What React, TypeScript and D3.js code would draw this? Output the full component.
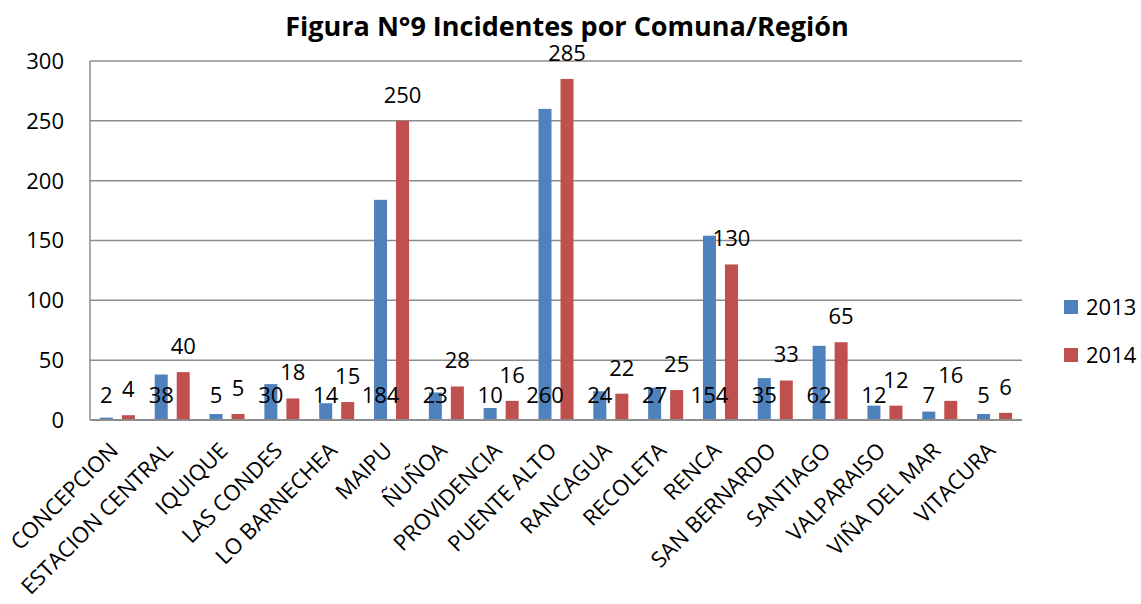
import React from "react";
import * as d3 from "d3";

const categories = ["CONCEPCION","ESTACION CENTRAL","IQUIQUE","LAS CONDES","LO BARNECHEA","MAIPU","ÑUÑOA","PROVIDENCIA","PUENTE ALTO","RANCAGUA","RECOLETA","RENCA","SAN BERNARDO","SANTIAGO","VALPARAISO","VIÑA DEL MAR","VITACURA"];
const values2013 = [2,38,5,30,14,184,23,10,260,24,27,154,35,62,12,7,5];
const values2014 = [4,40,5,18,15,250,28,16,285,22,25,130,33,65,12,16,6];
const yTicks = [0,50,100,150,200,250,300];
const seriesNames = ["2013","2014"];
const colors = ["#4F81BD","#C0504D"];
const title = "Figura N°9 Incidentes por Comuna/Región";

export default function App() {
  const W = 1141, H = 604;
  const left = 90, right = 1022, top = 61, bottom = 420;
  const x = d3.scaleBand().domain(categories).range([left, right]).padding(0);
  const y = d3.scaleLinear().domain([0, 300]).range([bottom, top]);
  const x1 = d3.scalePoint().domain(seriesNames).range([-11, 11]);
  const bw = 13;
  const font = "'Open Sans', sans-serif";
  const series = [values2013, values2014];
  return (
    <svg width={W} height={H} style={{ position: "absolute", left: 0, top: 0, background: "#fff" }} fontFamily={font}>
      {yTicks.map(t => (
        <g key={t}>
          {t > 0 && <line x1={left} x2={right} y1={y(t)} y2={y(t)} stroke="#8c8c8c" strokeWidth={1.5} />}
          <text x={64} y={y(t)} dy="0.36em" textAnchor="end" fontSize={22}>{t}</text>
        </g>
      ))}
      <line x1={left} x2={left} y1={top} y2={bottom} stroke="#8c8c8c" strokeWidth={1.5} />
      {series.map((vals, si) => vals.map((v, i) => {
        const cx = (x(categories[i]) as number) + x.bandwidth() / 2 + (x1(seriesNames[si]) as number);
        return (
          <rect key={si + "-" + i} x={cx - bw / 2} y={y(v)} width={bw} height={bottom - y(v)} fill={colors[si]} />
        );
      }))}
      <line x1={left} x2={right} y1={bottom} y2={bottom} stroke="#8c8c8c" strokeWidth={2} />
      {values2013.map((v, i) => {
        const cx = (x(categories[i]) as number) + x.bandwidth() / 2 + (x1("2013") as number);
        return <text key={"l13" + i} x={cx} y={395} dy="0.36em" textAnchor="middle" fontSize={22}>{v}</text>;
      })}
      {values2014.map((v, i) => {
        const cx = (x(categories[i]) as number) + x.bandwidth() / 2 + (x1("2014") as number);
        return <text key={"l14" + i} x={cx} y={y(v) - 26} dy="0.36em" textAnchor="middle" fontSize={22}>{v}</text>;
      })}
      <text x={567} y={36} textAnchor="middle" fontSize={27} fontWeight="bold">{title}</text>
      {categories.map((c, i) => {
        const cx = (x(c) as number) + x.bandwidth() / 2 + 2;
        const cy = 452;
        return <text key={c} x={cx} y={cy} textAnchor="end" fontSize={22} transform={`rotate(-45 ${cx} ${cy})`}>{c}</text>;
      })}
      {seriesNames.map((s, i) => (
        <g key={s}>
          <rect x={1064} y={300 + i * 48} width={14} height={14} fill={colors[i]} />
          <text x={1086} y={307 + i * 48} dy="0.36em" fontSize={22}>{s}</text>
        </g>
      ))}
    </svg>
  );
}
